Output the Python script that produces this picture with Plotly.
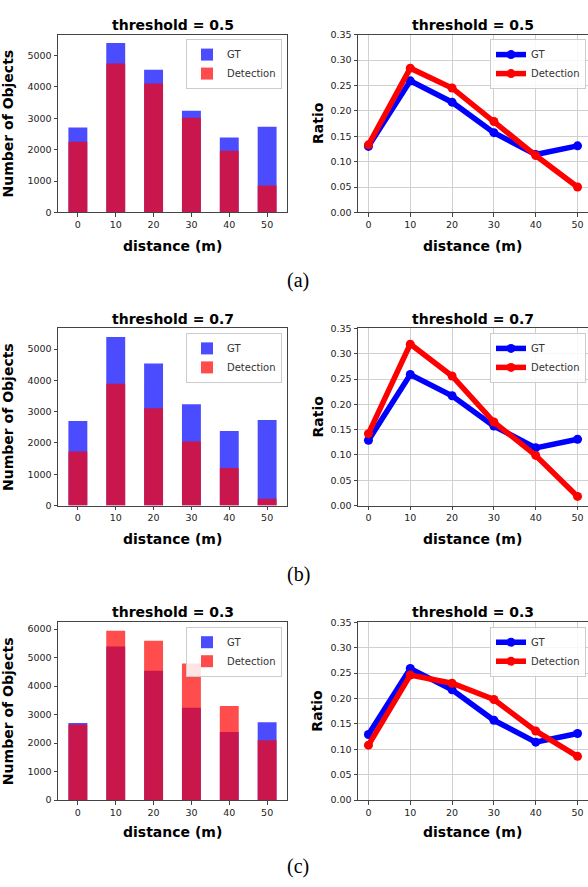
import plotly.graph_objects as go

W, H = 588, 887

# ---------------- data ----------------
distance = [0, 10, 20, 30, 40, 50]
x_tick_vals = [0, 10, 20, 30, 40, 50]
thresholds = ["0.5", "0.7", "0.3"]
captions = ["(a)", "(b)", "(c)"]

gt_counts = [2700, 5390, 4540, 3240, 2385, 2730]
det_counts_05 = [2250, 4740, 4100, 3010, 1960, 860]
det_counts_07 = [1730, 3890, 3110, 2050, 1200, 220]
det_counts_03 = [2650, 5940, 5590, 4790, 3300, 2100]

gt_ratio_05 = [0.130, 0.259, 0.217, 0.157, 0.114, 0.131]
det_ratio_05 = [0.133, 0.284, 0.245, 0.179, 0.112, 0.050]
gt_ratio_07 = [0.129, 0.259, 0.217, 0.157, 0.114, 0.131]
det_ratio_07 = [0.142, 0.319, 0.256, 0.165, 0.099, 0.018]
gt_ratio_03 = [0.129, 0.259, 0.217, 0.157, 0.114, 0.131]
det_ratio_03 = [0.108, 0.246, 0.230, 0.198, 0.136, 0.086]

ratio_tick_vals = [0.00, 0.05, 0.10, 0.15, 0.20, 0.25, 0.30, 0.35]

det_counts = [det_counts_05, det_counts_07, det_counts_03]
gt_ratios = [gt_ratio_05, gt_ratio_07, gt_ratio_03]
det_ratios = [det_ratio_05, det_ratio_07, det_ratio_03]

# ---------------- layout geometry (pixels) ----------------
rows_px = [(29, 209), (326.5, 505.8), (624, 804)]
left_px = (58, 287)
right_px = (358, 588)
xlabel_y = [243, 540, 836]
title_y = [19, 317, 614]
caption_y = [278, 576, 871]


def fx(x):
    return x / W


def fy(y):
    return 1 - y / H


FONT = "DejaVu Sans"
AXC = "#444444"
TICKC = "#222222"

fig = go.Figure()
layout = dict(
    width=W, height=H,
    margin=dict(l=0, r=0, t=0, b=0),
    paper_bgcolor="white", plot_bgcolor="white",
    barmode="overlay",
    font=dict(family=FONT, size=9.5, color=TICKC),
    annotations=[],
)

for r in range(3):
    top, bot = rows_px[r]
    for c in range(2):
        i = 2 * r + c + 1
        xa = "xaxis" if i == 1 else f"xaxis{i}"
        ya = "yaxis" if i == 1 else f"yaxis{i}"
        xr = "x" if i == 1 else f"x{i}"
        yr = "y" if i == 1 else f"y{i}"
        lg = "legend" if i == 1 else f"legend{i}"
        xpx = left_px if c == 0 else right_px

        common_x = dict(
            domain=[fx(xpx[0]), min(1.0, fx(xpx[1]))], anchor=yr,
            tickmode="array", tickvals=x_tick_vals,
            ticks="outside", ticklen=3.5, tickcolor=AXC, tickwidth=1,
            showline=True, linecolor=AXC, linewidth=1, mirror=True,
            zeroline=False,
            tickfont=dict(family=FONT, size=9.5, color=TICKC),
        )
        common_y = dict(
            domain=[fy(bot), fy(top)], anchor=xr,
            ticks="outside", ticklen=3.5, tickcolor=AXC, tickwidth=1,
            showline=True, linecolor=AXC, linewidth=1, mirror=(c == 0),
            zeroline=False,
            tickfont=dict(family=FONT, size=9.5, color=TICKC),
        )

        if c == 0:
            fig.add_trace(go.Bar(
                x=distance, y=gt_counts, width=5, name="GT",
                marker=dict(color="blue", line=dict(width=0)), opacity=0.7,
                xaxis=xr, yaxis=yr, legend=lg,
            ))
            fig.add_trace(go.Bar(
                x=distance, y=det_counts[r], width=5, name="Detection",
                marker=dict(color="red", line=dict(width=0)), opacity=0.7,
                xaxis=xr, yaxis=yr, legend=lg,
            ))
            ymax = 1.05 * max(max(gt_counts), max(det_counts[r]))
            layout[xa] = dict(common_x, range=[-5.25, 55.25], showgrid=False)
            layout[ya] = dict(common_y, range=[0, ymax], dtick=1000, showgrid=False)
            ylab, ylab_x = "Number of Objects", 8
            legend_right = 282
        else:
            fig.add_trace(go.Scatter(
                x=distance, y=gt_ratios[r], name="GT", mode="lines+markers",
                line=dict(color="blue", width=5.5), marker=dict(size=9, color="blue"),
                xaxis=xr, yaxis=yr, legend=lg,
            ))
            fig.add_trace(go.Scatter(
                x=distance, y=det_ratios[r], name="Detection", mode="lines+markers",
                line=dict(color="red", width=5.5), marker=dict(size=9, color="red"),
                xaxis=xr, yaxis=yr, legend=lg,
            ))
            layout[xa] = dict(common_x, range=[-2.5, 52.5], showgrid=True,
                              gridcolor="#d0d0d0", gridwidth=1)
            layout[ya] = dict(common_y, range=[0, 0.35], tickmode="array",
                              tickvals=ratio_tick_vals, tickformat=".2f",
                              showgrid=True, gridcolor="#d0d0d0", gridwidth=1)
            ylab, ylab_x = "Ratio", 317.5
            legend_right = 586

        layout[lg] = dict(
            x=fx(legend_right), y=fy(top + 4.5), xanchor="right", yanchor="top",
            bgcolor="rgba(255,255,255,0.85)", bordercolor="#cccccc", borderwidth=1,
            font=dict(family=FONT, size=10, color="#333333"),
            tracegroupgap=0, itemwidth=30,
        )

        cx = (xpx[0] + min(xpx[1], W)) / 2
        layout["annotations"].append(dict(
            text=f"<b>threshold = {thresholds[r]}</b>", xref="paper", yref="paper",
            x=fx(cx), y=fy(title_y[r]), xanchor="center", yanchor="middle",
            showarrow=False, font=dict(family=FONT, size=14, color="black"),
        ))
        layout["annotations"].append(dict(
            text="<b>distance (m)</b>", xref="paper", yref="paper",
            x=fx(cx), y=fy(xlabel_y[r]), xanchor="center", yanchor="middle",
            showarrow=False, font=dict(family=FONT, size=14, color="black"),
        ))
        layout["annotations"].append(dict(
            text=f"<b>{ylab}</b>", xref="paper", yref="paper", textangle=-90,
            x=fx(ylab_x), y=fy((top + bot) / 2), xanchor="center", yanchor="middle",
            showarrow=False, font=dict(family=FONT, size=14, color="black"),
        ))

    layout["annotations"].append(dict(
        text=captions[r], xref="paper", yref="paper",
        x=fx(298), y=fy(caption_y[r]), xanchor="center", yanchor="middle",
        showarrow=False, font=dict(family="Liberation Serif", size=20, color="black"),
    ))

fig.update_layout(**layout)

fig.write_html(
    "out.html",
    config={"displayModeBar": False},
    post_script="document.body.style.margin='0';document.body.style.overflow='hidden';",
)
